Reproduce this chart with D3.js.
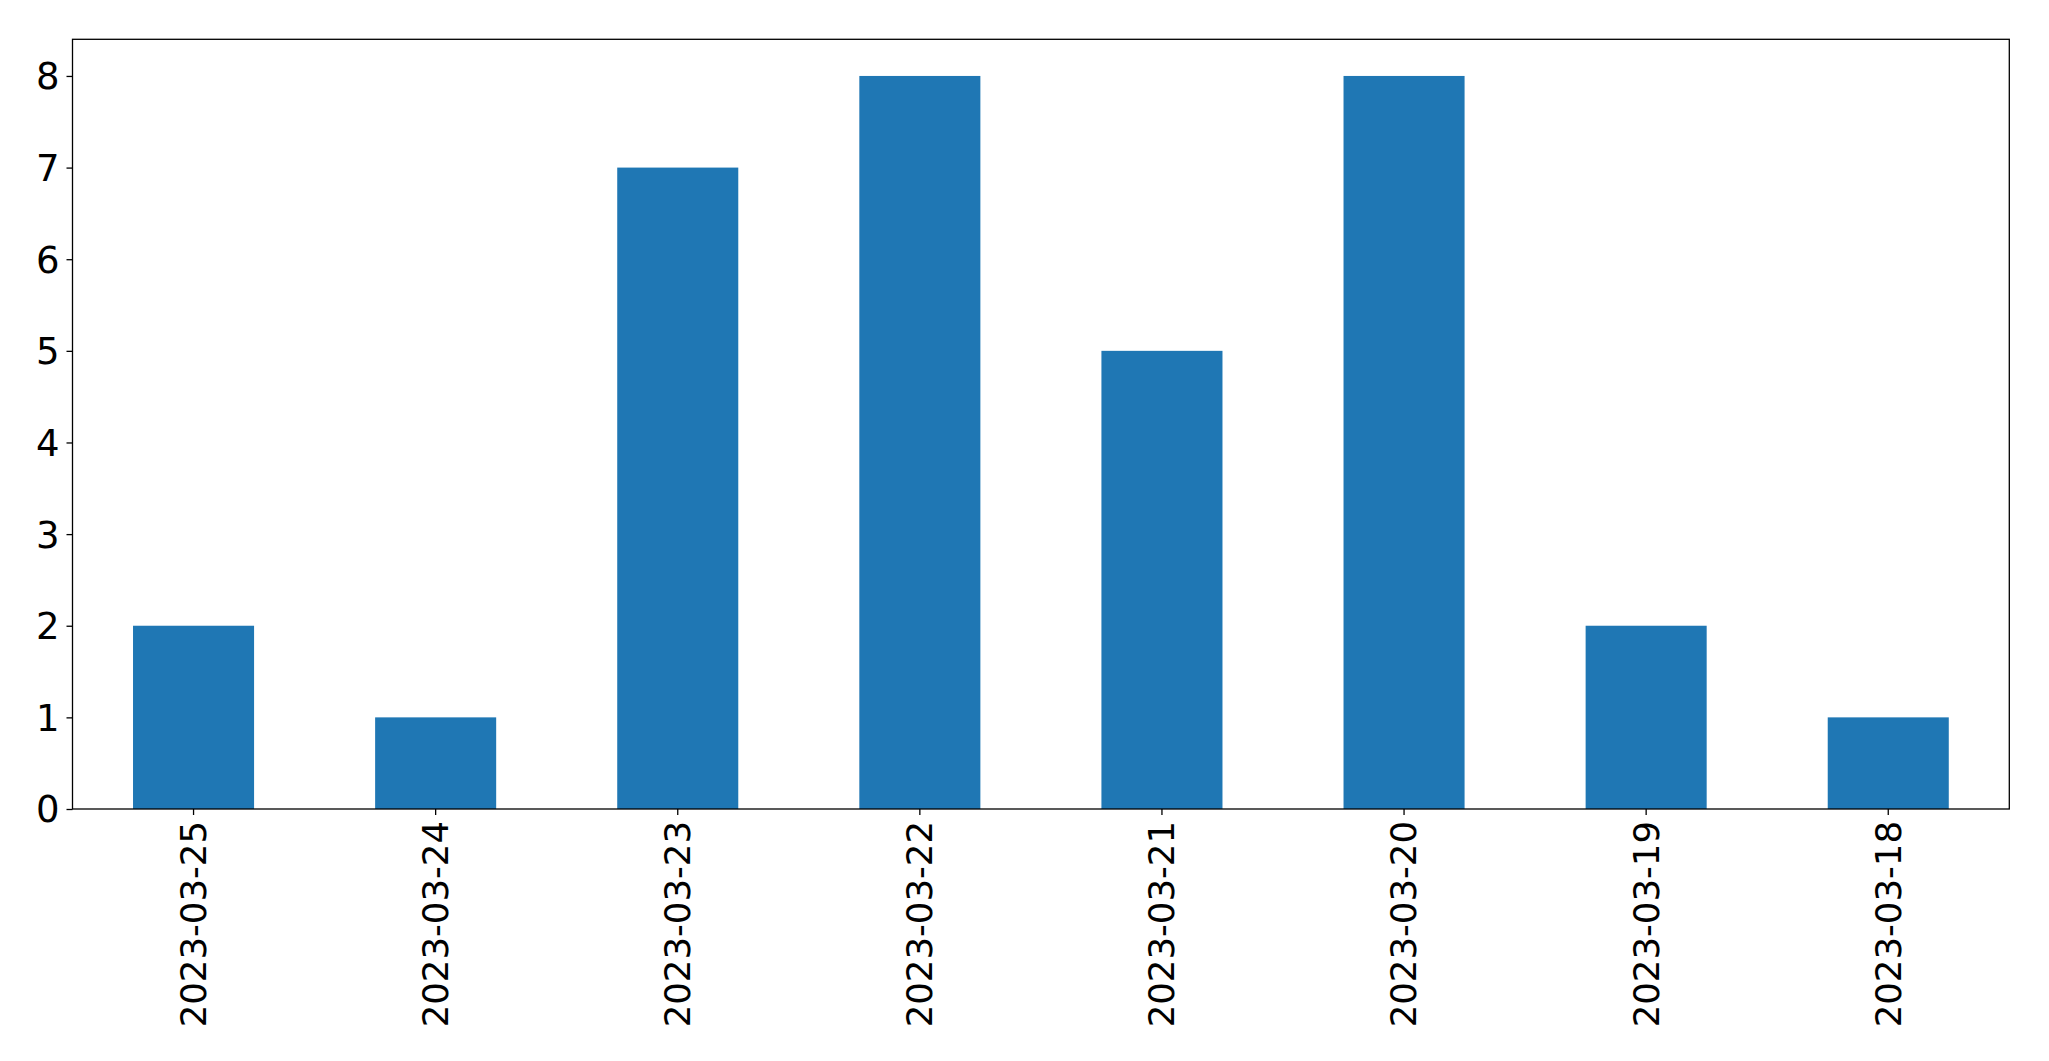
<!DOCTYPE html>
<html>
<head>
<meta charset="utf-8">
<script src="https://cdn.jsdelivr.net/npm/d3@7"></script>
<style>
  html, body { margin: 0; padding: 0; background: #fff; }
  svg { display: block; }
  text { font-family: "DejaVu Sans", sans-serif; }
</style>
</head>
<body>
<script>
const categories = ["2023-03-25","2023-03-24","2023-03-23","2023-03-22","2023-03-21","2023-03-20","2023-03-19","2023-03-18"];
const values = [2, 1, 7, 8, 5, 8, 2, 1];
const yTicks = [0, 1, 2, 3, 4, 5, 6, 7, 8];

const W = 2049, H = 1061;
const margin = { left: 72.5, top: 39.3, right: W - 2009.3, bottom: H - 809 };
const iw = W - margin.left - margin.right;
const ih = H - margin.top - margin.bottom;

const svg = d3.select("body").append("svg").attr("width", W).attr("height", H);
const g = svg.append("g").attr("transform", `translate(${margin.left},${margin.top})`);

const x = d3.scaleBand().domain(categories).range([0, iw]).paddingInner(0.5).paddingOuter(0.25);
const y = d3.scaleLinear().domain([0, 8.4]).range([ih, 0]);

g.selectAll("rect.bar").data(values).enter().append("rect")
  .attr("class", "bar")
  .attr("x", (d, i) => x(categories[i]))
  .attr("width", x.bandwidth())
  .attr("y", d => y(d))
  .attr("height", d => y(0) - y(d))
  .attr("fill", "#1f77b4");

const fsX = 35.5, fsY = 37;

const yAxis = g.append("g").call(d3.axisLeft(y).tickValues(yTicks).tickFormat(d3.format("d")).tickSize(6).tickPadding(7));
yAxis.select(".domain").remove();
yAxis.selectAll("text").style("font-size", fsY + "px").attr("fill", "#000").attr("dy", "0.35em");
yAxis.selectAll("line").attr("stroke", "#000").attr("stroke-width", 1.3);

const xAxis = g.append("g").attr("transform", `translate(0,${ih})`)
  .call(d3.axisBottom(x).tickSize(6).tickPadding(10));
xAxis.select(".domain").remove();
xAxis.selectAll("line").attr("stroke", "#000").attr("stroke-width", 1.3);
xAxis.selectAll("text")
  .style("font-size", fsX + "px").attr("fill", "#000")
  .attr("text-anchor", "end")
  .attr("transform", "rotate(-90)")
  .attr("x", -12).attr("y", 0).attr("dy", "0.35em");

g.append("rect").attr("x", 0).attr("y", 0).attr("width", iw).attr("height", ih)
  .attr("fill", "none").attr("stroke", "#000").attr("stroke-width", 1.3);
</script>
</body>
</html>
